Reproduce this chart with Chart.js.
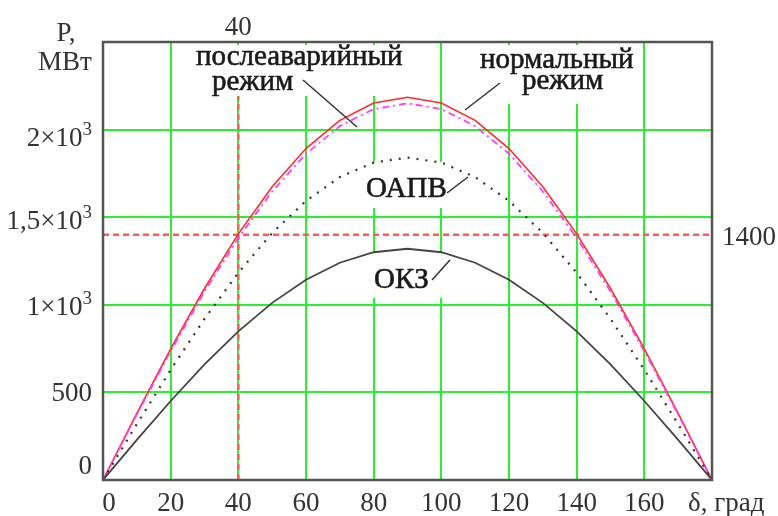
<!DOCTYPE html>
<html>
<head>
<meta charset="utf-8">
<script src="https://cdn.jsdelivr.net/npm/chart.js@4"></script>
<style>
  html, body { margin: 0; padding: 0; background: #fff; }
  #wrap { width: 778px; height: 516px; }
</style>
</head>
<body>
<div id="wrap"><canvas id="myChart" width="778" height="516"></canvas></div>
<script>
// angle, degrees
const delta = [0, 10, 20, 30, 40, 50, 60, 70, 80, 90, 100, 110, 120, 130, 140, 150, 160, 170, 180];

// power, MW
const pNormal = [0, 380, 748, 1093, 1405, 1674, 1892, 2053, 2152, 2185, 2152, 2053, 1892, 1674, 1405, 1093, 748, 380, 0];
const pPostFault = [0, 373, 735, 1075, 1382, 1647, 1862, 2020, 2117, 2150, 2117, 2020, 1862, 1647, 1382, 1075, 735, 373, 0];
const pOAPV = [0, 319, 629, 920, 1183, 1410, 1593, 1729, 1812, 1840, 1812, 1729, 1593, 1410, 1183, 920, 629, 319, 0];
const pOKZ = [0, 229, 451, 660, 848, 1011, 1143, 1240, 1300, 1320, 1300, 1240, 1143, 1011, 848, 660, 451, 229, 0];

// reference lines
const pLimit = 1400;
const deltaMark = 40;
const deltaMarkTop = 2190;

// ticks
const xTicks = [0, 20, 40, 60, 80, 100, 120, 140, 160];
const xLabels = ['0', '20', '40', '60', '80', '100', '120', '140', '160'];
const yTicks = [0, 500, 1000, 1500, 2000];
const yLabels = ['0', '500', '1×10³', '1,5×10³', '2×10³'];

function pts(ys) {
  return delta.map((d, i) => ({ x: d, y: ys[i] }));
}

const serif = '"Liberation Serif", "Times New Roman", serif';
const gridGreen = '#2cf02c';

// white patches behind the labels (cover the grid there)
const textBoxes = [
  [188, 45, 222, 51],
  [476, 45, 164, 59],
  [363, 162, 83, 46],
  [364, 252, 82, 46]
];

// labels inside the plot: text, x, baseline
const notes = [
  ['послеаварийный', 196, 65],
  ['режим', 212, 90],
  ['нормальный', 480, 68],
  ['режим', 522, 89],
  ['ОАПВ', 366, 197],
  ['ОКЗ', 374, 288]
];

const leaders = [
  [303, 80, 357, 127],
  [500, 83, 465, 110],
  [447, 193, 468, 177],
  [432, 280, 450, 260]
];

const yNudge = [-15, 0, 1, 3, 7];

const decor = {
  id: 'decor',
  beforeDatasetsDraw(c) {
    const ctx = c.ctx;
    ctx.save();
    ctx.fillStyle = '#fff';
    textBoxes.forEach(b => ctx.fillRect(b[0], b[1], b[2], b[3]));
    ctx.restore();
  },
  afterDatasetsDraw(c) {
    const ctx = c.ctx;
    const a = c.chartArea;
    const xs = c.scales.x, ys = c.scales.y;
    ctx.save();

    // frame
    ctx.strokeStyle = '#555';
    ctx.lineWidth = 2.5;
    ctx.strokeRect(a.left, a.top, a.right - a.left, a.bottom - a.top);

    // leader lines
    ctx.strokeStyle = '#333';
    ctx.lineWidth = 1.5;
    leaders.forEach(l => {
      ctx.beginPath();
      ctx.moveTo(l[0], l[1]);
      ctx.lineTo(l[2], l[3]);
      ctx.stroke();
    });

    // notes, a bit heavier like the original
    ctx.fillStyle = '#1a1a1a';
    ctx.strokeStyle = '#1a1a1a';
    ctx.lineWidth = 0.6;
    ctx.font = '29px ' + serif;
    ctx.textAlign = 'left';
    ctx.textBaseline = 'alphabetic';
    notes.forEach(n => {
      ctx.fillText(n[0], n[1], n[2]);
      ctx.strokeText(n[0], n[1], n[2]);
    });

    // x tick labels
    ctx.fillStyle = '#333';
    ctx.font = '27px ' + serif;
    ctx.textAlign = 'center';
    xTicks.forEach((v, i) => {
      let px = xs.getPixelForValue(v);
      if (v === 0) px += 6;
      ctx.fillText(xLabels[i], px, 511);
    });
    ctx.textAlign = 'left';
    ctx.fillText('δ, град', 688, 511);

    // y tick labels
    const rightEdge = 92;
    yTicks.forEach((v, i) => {
      const py = ys.getPixelForValue(v) + yNudge[i];
      const parts = yLabels[i].split('³');
      ctx.font = '27px ' + serif;
      const wBase = ctx.measureText(parts[0]).width;
      let wSup = 0;
      if (parts.length > 1) {
        ctx.font = '19px ' + serif;
        wSup = ctx.measureText('3').width;
      }
      const x0 = rightEdge - wBase - wSup;
      ctx.font = '27px ' + serif;
      ctx.fillText(parts[0], x0, py + 9);
      if (parts.length > 1) {
        ctx.font = '19px ' + serif;
        ctx.fillText('3', x0 + wBase, py - 2);
      }
    });

    // axis name and marks outside the plot
    ctx.font = '27px ' + serif;
    ctx.textAlign = 'center';
    ctx.fillText('P,', 66, 41);
    ctx.fillText('МВт', 65, 70);
    ctx.fillText('40', xs.getPixelForValue(deltaMark), 35);
    ctx.textAlign = 'left';
    ctx.fillText('1400', 722, ys.getPixelForValue(pLimit) + 10);

    ctx.restore();
  }
};

new Chart(document.getElementById('myChart').getContext('2d'), {
  type: 'line',
  data: {
    datasets: [
      {
        label: 'ОКЗ',
        data: pts(pOKZ),
        borderColor: '#444',
        borderWidth: 1.8
      },
      {
        label: 'ОАПВ',
        data: pts(pOAPV),
        borderColor: '#333',
        borderWidth: 2.2,
        borderDash: [2, 7]
      },
      {
        label: 'послеаварийный режим',
        data: pts(pPostFault),
        borderColor: '#ff3cff',
        borderWidth: 1.8,
        borderDash: [7, 4, 2, 4]
      },
      {
        label: 'нормальный режим',
        data: pts(pNormal),
        borderColor: '#ff2a2a',
        borderWidth: 1.6
      },
      {
        label: '1400',
        data: [{ x: 0, y: pLimit }, { x: 180, y: pLimit }],
        borderColor: '#ff5a5a',
        borderWidth: 2.5,
        borderDash: [6, 4]
      },
      {
        label: '40',
        data: [{ x: deltaMark, y: 0 }, { x: deltaMark, y: deltaMarkTop }],
        borderColor: '#ff5a5a',
        borderWidth: 2.5,
        borderDash: [6, 4]
      }
    ]
  },
  options: {
    responsive: false,
    animation: false,
    layout: { padding: { top: 42, right: 66, left: 0, bottom: 0 } },
    elements: { point: { radius: 0 }, line: { tension: 0 } },
    plugins: {
      legend: { display: false },
      tooltip: { enabled: false }
    },
    scales: {
      x: {
        type: 'linear',
        min: 0,
        max: 180,
        afterBuildTicks: s => { s.ticks = [0, 20, 40, 60, 80, 100, 120, 140, 160, 180].map(v => ({ value: v })); },
        ticks: { display: false },
        grid: { color: gridGreen, lineWidth: 2, drawTicks: false },
        border: { display: false },
        afterFit: s => { s.height = 36; }
      },
      y: {
        min: 0,
        max: 2500,
        ticks: { display: false, stepSize: 500 },
        grid: { color: gridGreen, lineWidth: 2, drawTicks: false },
        border: { display: false },
        afterFit: s => { s.width = 103; }
      }
    }
  },
  plugins: [decor]
});
</script>
</body>
</html>
